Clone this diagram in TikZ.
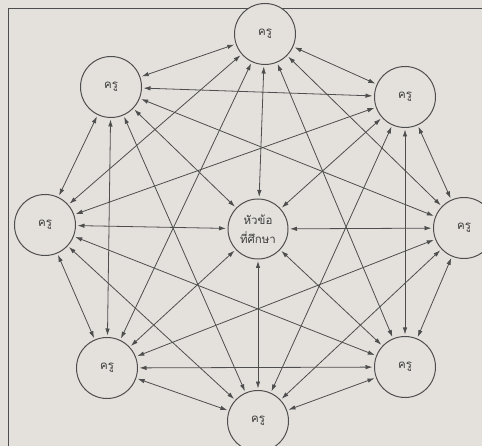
\documentclass[tikz,border=0pt]{standalone}
\usepackage{fontspec}
\newfontfamily\thaifont[Script=Thai]{Loma}
\usepackage{tikz}
\usetikzlibrary{arrows.meta}
\definecolor{paper}{RGB}{228,225,221}
\definecolor{ink}{RGB}{78,78,78}

\begin{document}
\begin{tikzpicture}[
    x=1pt, y=-1pt,
    every node/.style={font=\thaifont\fontsize{11.5}{19}\selectfont, text=ink!80!black},
    teacher/.style={draw=ink, line width=1pt, circle,
                minimum size=61pt, inner sep=0pt, outer sep=2pt,
                fill=paper, align=center},
    topic/.style={teacher, minimum size=60pt},
    link/.style={<->, draw=ink, line width=0.8pt,
                >={Latex[length=7pt,width=4.5pt]}},
    frameline/.style={draw=ink, line width=0.9pt}
]
  % --- Page and frame ---
  \useasboundingbox (0,0) rectangle (482,446);
  \clip (0,0) rectangle (482,446);
  \fill[paper] (0,0) rectangle (482,446);
  \draw[frameline] (8,460) -- (8,8) -- (500,8);

  % --- Ring of teachers ---
  \node[teacher] (tN)  at (265, 34)  {ครู};
  \node[teacher] (tNW) at (111, 87)  {ครู};
  \node[teacher] (tNE) at (405, 97)  {ครู};
  \node[teacher] (tW)  at (45, 225)  {ครู};
  \node[teacher] (tE)  at (464, 228) {ครู};
  \node[teacher] (tSW) at (107, 368) {ครู};
  \node[teacher] (tSE) at (405, 367) {ครู};
  \node[teacher] (tS)  at (258, 421) {ครู};

  % --- Topic in the middle ---
  \node[topic] (topic) at (258, 229) {หัวข้อ\\ที่ศึกษา};

  % --- Spokes to the topic ---
  \draw[link] (tN)  -- (topic);
  \draw[link] (tNW) -- (topic);
  \draw[link] (tNE) -- (topic);
  \draw[link] (tW)  -- (topic);
  \draw[link] (tE)  -- (topic);
  \draw[link] (tSW) -- (topic);
  \draw[link] (tSE) -- (topic);
  \draw[link] (tS)  -- (topic);

  % --- Outer ring, neighbour to neighbour ---
  \draw[link] (tN)  -- (tNW);
  \draw[link] (tNW) -- (tW);
  \draw[link] (tW)  -- (tSW);
  \draw[link] (tSW) -- (tS);
  \draw[link] (tS)  -- (tSE);
  \draw[link] (tSE) -- (tE);
  \draw[link] (tE)  -- (tNE);
  \draw[link] (tNE) -- (tN);

  % --- Chords skipping one teacher ---
  \draw[link] (tN)  -- (tW);
  \draw[link] (tNW) -- (tSW);
  \draw[link] (tW)  -- (tS);
  \draw[link] (tSW) -- (tSE);
  \draw[link] (tS)  -- (tE);
  \draw[link] (tSE) -- (tNE);
  \draw[link] (tE)  -- (tN);
  \draw[link] (tNE) -- (tNW);

  % --- Chords skipping two teachers ---
  \draw[link] (tN)  -- (tSW);
  \draw[link] (tNW) -- (tS);
  \draw[link] (tW)  -- (tSE);
  \draw[link] (tSW) -- (tE);
  \draw[link] (tS)  -- (tNE);
  \draw[link] (tSE) -- (tN);
  \draw[link] (tE)  -- (tNW);
  \draw[link] (tNE) -- (tW);
\end{tikzpicture}
\end{document}
